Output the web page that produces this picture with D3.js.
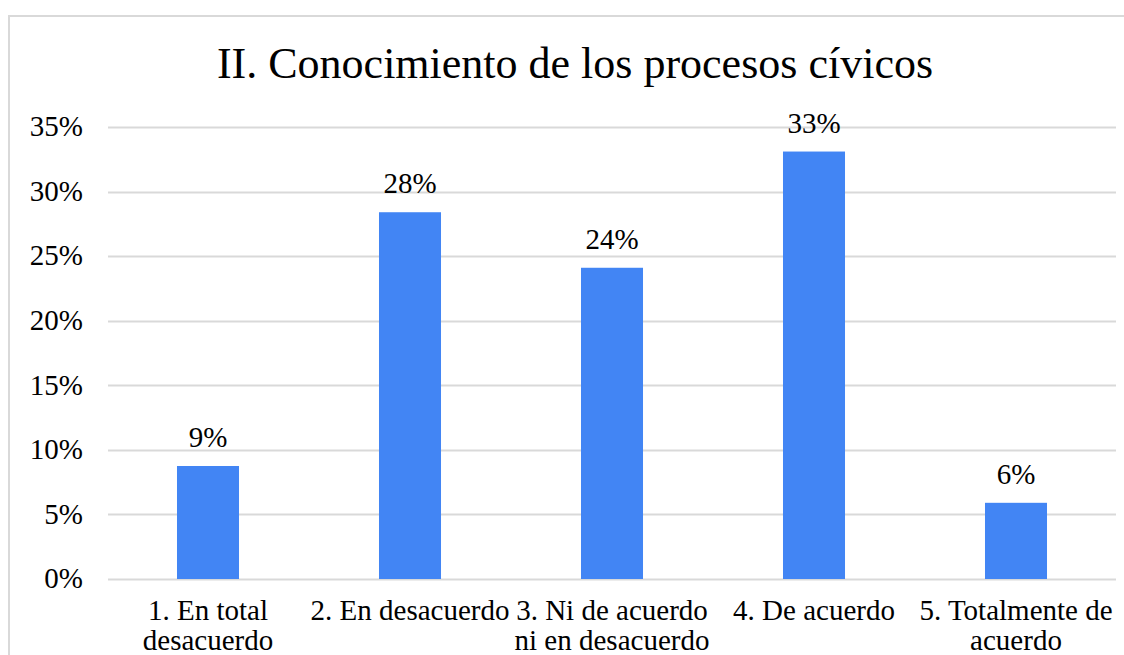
<!DOCTYPE html>
<html>
<head>
<meta charset="utf-8">
<script src="https://cdn.jsdelivr.net/npm/d3@7"></script>
<style>
  body { margin: 0; background: #fff; }
  text { font-family: "Liberation Serif", "Times New Roman", serif; fill: #000; }
</style>
</head>
<body>
<div id="chart"></div>
<script>
// data
var title = "II. Conocimiento de los procesos cívicos";
var categories = ["1. En total\ndesacuerdo", "2. En desacuerdo", "3. Ni de acuerdo\nni en desacuerdo", "4. De acuerdo", "5. Totalmente de\nacuerdo"];
var values = [0.0875, 0.284, 0.241, 0.331, 0.059];
var yTicks = [0, 0.05, 0.10, 0.15, 0.20, 0.25, 0.30, 0.35];

var width = 1124, height = 655;

var svg = d3.select("#chart").append("svg")
    .attr("width", width)
    .attr("height", height);

// outer chart border
svg.append("rect")
    .attr("x", 9).attr("y", 16)
    .attr("width", 1140).attr("height", 700)
    .attr("fill", "none")
    .attr("stroke", "#d9d9d9")
    .attr("stroke-width", 2);

svg.append("text")
    .attr("x", 575).attr("y", 78)
    .attr("text-anchor", "middle")
    .style("font-size", "44px")
    .text(title);

var x = d3.scaleBand()
    .domain(categories)
    .range([107, 1117])
    .paddingInner(0.693)
    .paddingOuter(0.3465);

var y = d3.scaleLinear()
    .domain([0, 0.35])
    .range([579, 127]);

// gridlines
svg.append("g")
    .selectAll("line")
    .data(yTicks)
    .enter().append("line")
    .attr("x1", 108).attr("x2", 1116)
    .attr("y1", function(d) { return Math.round(y(d)) + 0.5; })
    .attr("y2", function(d) { return Math.round(y(d)) + 0.5; })
    .attr("stroke", "#d9d9d9")
    .attr("stroke-width", 2);

// y labels
svg.append("g")
    .selectAll("text")
    .data(yTicks)
    .enter().append("text")
    .attr("x", 83)
    .attr("y", function(d) { return y(d); })
    .attr("dy", "0.32em")
    .attr("text-anchor", "end")
    .style("font-size", "29px")
    .text(d3.format(".0%"));

// bars
svg.append("g")
    .selectAll("rect")
    .data(values)
    .enter().append("rect")
    .attr("x", function(d, i) { return x(categories[i]); })
    .attr("y", function(d) { return y(d); })
    .attr("width", x.bandwidth())
    .attr("height", function(d) { return y(0) - y(d); })
    .attr("fill", "#4285f4");

// value labels
svg.append("g")
    .selectAll("text")
    .data(values)
    .enter().append("text")
    .attr("x", function(d, i) { return x(categories[i]) + x.bandwidth() / 2; })
    .attr("y", function(d) { return y(d) - 19; })
    .attr("text-anchor", "middle")
    .style("font-size", "29px")
    .text(d3.format(".0%"));

// category labels
var cat = svg.append("g")
    .selectAll("text")
    .data(categories)
    .enter().append("text")
    .attr("x", function(d) { return x(d) + x.bandwidth() / 2; })
    .attr("y", 620)
    .attr("text-anchor", "middle")
    .style("font-size", "29px");

cat.each(function(d) {
    var t = d3.select(this);
    var cx = t.attr("x");
    d.split("\n").forEach(function(line, j) {
        t.append("tspan")
            .attr("x", cx)
            .attr("dy", j === 0 ? 0 : 30)
            .text(line);
    });
});
</script>
</body>
</html>
